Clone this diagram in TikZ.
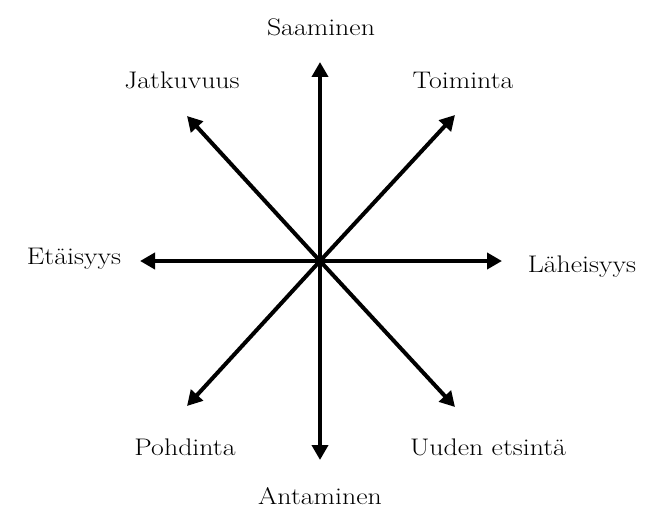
\documentclass[tikz,border=0pt]{standalone}
\usetikzlibrary{arrows.meta}
\begin{document}
\begin{tikzpicture}[x=1pt,y=-1pt,
  axis/.style={line width=4pt,-{Triangle[length=15pt,width=16pt]}},
  lab/.style={font=\fontsize{24}{28}\selectfont,inner sep=0pt}]
\newcommand\wlab[1]{\scalebox{1.16}[1]{#1}}
\useasboundingbox (0,0) rectangle (655,516);
\coordinate (c) at (320,261);
\coordinate (n) at (320,62);
\coordinate (s) at (320,460);
\coordinate (w) at (140,261);
\coordinate (e) at (502,261);
\coordinate (ne) at (455,115);
\coordinate (nw) at (187,116);
\coordinate (sw) at (187,406);
\coordinate (se) at (455,407);
\foreach \t in {n,s,w,e,ne,nw,sw,se} \draw[axis] (c) -- (\t);
\node[lab] (saa) at (321,27) {\wlab{Saaminen}};
\node[lab] (jat) at (182,80) {\wlab{Jatkuvuus}};
\node[lab] (toi) at (463,80) {\wlab{Toiminta}};
\node[lab] (eta) at (74,259) {\wlab{Etäisyys}};
\node[lab] (lah) at (582,267) {\wlab{Läheisyys}};
\node[lab] (poh) at (185,447) {\wlab{Pohdinta}};
\node[lab] (uud) at (488,447) {\wlab{Uuden etsintä}};
\node[lab] (ant) at (320,496) {\wlab{Antaminen}};
\end{tikzpicture}
\end{document}
